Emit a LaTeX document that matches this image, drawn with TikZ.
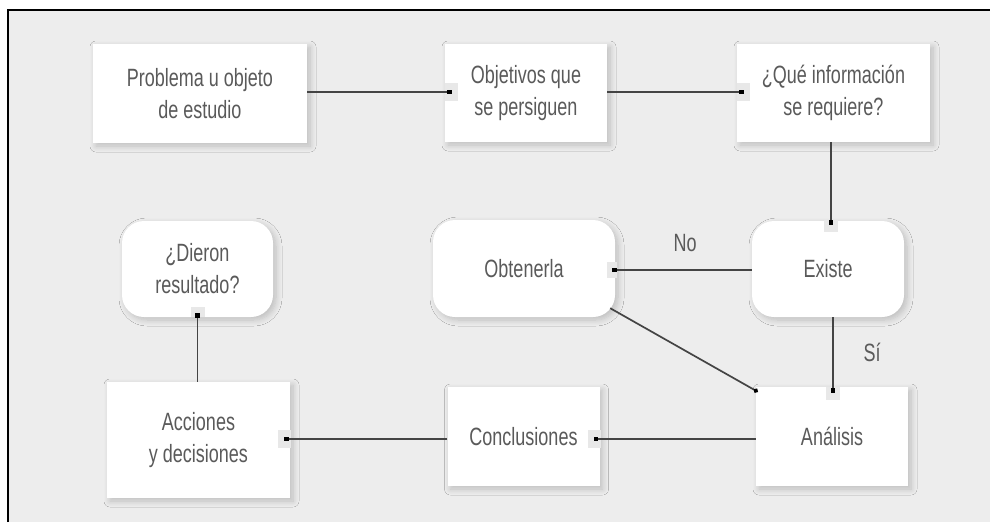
\documentclass[tikz,border=0pt]{standalone}
\usepackage{fontspec}
\setmainfont{Liberation Sans}[FakeStretch=0.72]
\usetikzlibrary{calc,arrows.meta,shadows.blur}

\definecolor{paper}{HTML}{EDEDED}
\definecolor{ink}{HTML}{5A5A5A}
\definecolor{wirecol}{HTML}{444444}
\definecolor{notch}{HTML}{E8E8E8}

\tikzset{
  box/.style={fill=white, draw=none, inner sep=0pt, align=center, text=ink,
    font=\fontsize{25}{32}\selectfont,
    blur shadow={shadow xshift=3pt, shadow yshift=-3pt,
                 shadow blur radius=6pt, shadow blur steps=8, shadow opacity=20}},
  rbox/.style={box, rounded corners=22pt},
  wire/.style={draw=wirecol, line width=1.7pt},
  sqtip/.style={wire, -{Square[length=4.5pt,width=4.5pt,black]}},
  dottip/.style={wire, -{Circle[length=4.5pt,width=4.5pt,black]}},
  lbl/.style={text=ink, inner sep=0pt, font=\fontsize{25}{32}\selectfont},
}

\begin{document}
\begin{tikzpicture}[x=1pt, y=-1pt]
  \useasboundingbox (0,0) rectangle (990,522);
  % panel with its frame (left and top edges)
  \fill[white] (0,0) rectangle (990,522);
  \fill[paper] (8,10) rectangle (990,522);
  \draw[line width=2pt] (8,522) -- (8,10) -- (990,10);

  % boxes
  \node[box, minimum width=214pt, minimum height=99pt] (prob) at (200,93.5)
    {Problema u objeto\\de estudio};
  \node[box, minimum width=162pt, minimum height=98pt] (obj) at (526,93)
    {Objetivos que\\se persiguen};
  \node[box, minimum width=193pt, minimum height=98pt] (que) at (833.5,93)
    {¿Qué información\\se requiere?};
  \node[rbox, minimum width=152pt, minimum height=96pt] (existe) at (828,269)
    {Existe};
  \node[rbox, minimum width=182pt, minimum height=97pt] (obten) at (524,268.5)
    {Obtenerla};
  \node[rbox, minimum width=151pt, minimum height=96pt] (dieron) at (197.5,269)
    {¿Dieron\\resultado?};
  \node[box, minimum width=183pt, minimum height=116pt] (acc) at (198.5,440)
    {Acciones\\y decisiones};
  \node[box, minimum width=152pt, minimum height=99pt] (concl) at (523.5,436.5)
    {Conclusiones};
  \node[box, minimum width=152pt, minimum height=99pt] (anal) at (832,436.5)
    {Análisis};

  % connector end points, just inside the target boxes
  \coordinate (objIn)    at ($(obj.west)+(7,-1)$);
  \coordinate (queIn)    at ($(que.west)+(7,-1)$);
  \coordinate (existeIn) at ($(existe.north)+(3,4)$);
  \coordinate (obtenIn)  at ($(obten.east)+(-3,1.5)$);
  \coordinate (analIn)   at ($(anal.north)+(1,6)$);
  \coordinate (analDiag) at ($(anal.north west)+(2,5)$);
  \coordinate (obtenOut) at ($(obten.south east)+(-5,-9)$);
  \coordinate (conclIn)  at ($(concl.east)+(-6,2.5)$);
  \coordinate (accIn)    at ($(acc.east)+(-6,-1)$);
  \coordinate (dieronIn) at ($(dieron.south)+(0,-4)$);

  % light tabs behind the end markers
  \fill[notch] ($(objIn)+(-7,-9)$) rectangle ($(objIn)+(6,9)$);
  \fill[notch] ($(queIn)+(-7,-9)$) rectangle ($(queIn)+(6,9)$);
  \fill[notch] ($(conclIn)+(-6,-9)$) rectangle ($(conclIn)+(7,9)$);
  \fill[notch] ($(accIn)+(-6,-9)$) rectangle ($(accIn)+(7,9)$);
  \fill[notch] ($(obtenIn)+(-5,-8)$) rectangle ($(obtenIn)+(5,8)$);
  \fill[notch] ($(existeIn)+(-7,-5)$) rectangle ($(existeIn)+(7,7)$);
  \fill[notch] ($(analIn)+(-7,-6)$) rectangle ($(analIn)+(7,7)$);
  \fill[notch] ($(dieronIn)+(-7,-6)$) rectangle ($(dieronIn)+(7,4)$);

  % connectors
  \draw[sqtip] (prob.east |- objIn) -- (objIn);
  \draw[sqtip] (obj.east |- queIn) -- (queIn);
  \draw[sqtip] (que.south -| existeIn) -- (existeIn);
  \draw[sqtip] (existe.west |- obtenIn) -- (obtenIn);
  \draw[sqtip] (existe.south -| analIn) -- (analIn);
  \draw[dottip] (obtenOut) -- (analDiag);
  \draw[sqtip] (anal.west |- conclIn) -- (conclIn);
  \draw[sqtip] (concl.west |- accIn) -- (accIn);
  \draw[sqtip] (acc.north -| dieronIn) -- (dieronIn);

  % branch labels
  \node[lbl] (no) at (685,243) {No};
  \node[lbl] (si) at (872,352) {Sí};
\end{tikzpicture}
\end{document}
